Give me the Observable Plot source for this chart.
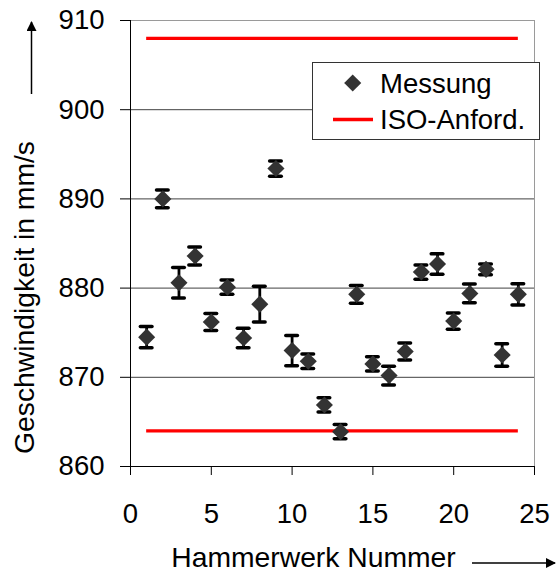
<!DOCTYPE html>
<html>
<head>
<meta charset="utf-8">
<script src="https://cdn.jsdelivr.net/npm/d3@7"></script>
<script src="https://cdn.jsdelivr.net/npm/@observablehq/plot@0.6"></script>
<style>
  html, body { margin: 0; padding: 0; background: #fff; }
  #chart { position: relative; width: 556px; height: 574px; }
</style>
</head>
<body>
<div id="chart"></div>
<script>
const nummer = [1,2,3,4,5,6,7,8,9,10,11,12,13,14,15,16,17,18,19,20,21,22,23,24];
const messung = [874.5, 890.0, 880.6, 883.6, 876.2, 880.1, 874.4, 878.2, 893.4, 873.0, 871.8, 866.9,
                 863.9, 879.3, 871.5, 870.2, 872.9, 881.8, 882.7, 876.3, 879.4, 882.1, 872.5, 879.3];
const fehler = [1.2, 1.0, 1.7, 1.0, 0.95, 0.8, 1.1, 2.0, 0.85, 1.7, 0.8, 0.8,
                0.8, 1.0, 0.8, 1.05, 0.95, 0.8, 1.15, 0.9, 1.05, 0.6, 1.25, 1.2];
const isoGrenzen = [864, 908];
const isoVon = 1, isoBis = 24;
const xTicks = [0, 5, 10, 15, 20, 25];
const yTicks = [860, 870, 880, 890, 900, 910];
const yGrid = [870, 880, 890, 900];
const xLabel = "Hammerwerk Nummer";
const yLabel = "Geschwindigkeit in mm/s";
const legendLabels = ["Messung", "ISO-Anford."];

const data = nummer.map((n, i) => ({n, v: messung[i], lo: messung[i] - fehler[i], hi: messung[i] + fehler[i]}));
const iso = isoGrenzen.map(g => ({g, x1: isoVon, x2: isoBis}));
const capW = 0.36;
const dotR = 7.7;

const font = "'Liberation Sans', Arial, sans-serif";
const fs = 27.5;

const plot = Plot.plot({
  width: 556,
  height: 574,
  marginLeft: 130,
  marginRight: 22,
  marginTop: 20,
  marginBottom: 108,
  style: {fontFamily: font, fontSize: fs + "px", color: "#000", background: "#fff"},
  x: {domain: [0, 25]},
  y: {domain: [860, 910]},
  marks: [
    Plot.gridY(yGrid, {stroke: "#404040", strokeOpacity: 1, strokeWidth: 1}),
    Plot.frame({stroke: "#9a9a9a", strokeWidth: 1}),
    Plot.ruleX([0], {stroke: "#000", strokeWidth: 1}),
    Plot.ruleY([860], {stroke: "#000", strokeWidth: 1}),
    Plot.axisY({ticks: yTicks, tickSize: 10, tickPadding: 16, label: null, stroke: "#000", fontSize: fs}),
    Plot.axisX({ticks: xTicks, tickSize: 9, tickPadding: 28, label: null, stroke: "#000", fontSize: fs}),
    Plot.ruleY(iso, {y: "g", x1: "x1", x2: "x2", stroke: "#ff0000", strokeWidth: 3.3}),
    Plot.ruleX(data, {x: "n", y1: "lo", y2: "hi", stroke: "#000", strokeWidth: 2.8}),
    Plot.ruleY(data, {y: "hi", x1: d => d.n - capW, x2: d => d.n + capW, stroke: "#000", strokeWidth: 3.5, strokeLinecap: "round"}),
    Plot.ruleY(data, {y: "lo", x1: d => d.n - capW, x2: d => d.n + capW, stroke: "#000", strokeWidth: 3.5, strokeLinecap: "round"}),
    Plot.dot(data, {x: "n", y: "v", symbol: "diamond2", r: dotR, fill: "#333333", stroke: "none"}),
    Plot.text([xLabel], {frameAnchor: "bottom", dx: -19, dy: 91, fontSize: 28.3, fill: "#000", textAnchor: "middle", lineAnchor: "middle"}),
    Plot.text([yLabel], {frameAnchor: "left", rotate: -90, dx: -106, dy: 54, fontSize: 28.3, fill: "#000", textAnchor: "middle", lineAnchor: "middle"})
  ]
});

document.getElementById("chart").appendChild(plot);

// decorations: direction arrows and legend
const svg = d3.select(plot);
const defs = svg.append("defs");
defs.append("marker").attr("id", "ah").attr("viewBox", "0 0 10 10").attr("refX", 9).attr("refY", 5)
  .attr("markerWidth", 10).attr("markerHeight", 10).attr("markerUnits", "userSpaceOnUse").attr("orient", "auto")
  .append("path").attr("d", "M0,0 L10,5 L0,10 z").attr("fill", "#000");
svg.append("line").attr("x1", 472).attr("y1", 563).attr("x2", 555).attr("y2", 563)
  .attr("stroke", "#000").attr("stroke-width", 1.5).attr("marker-end", "url(#ah)");
svg.append("line").attr("x1", 31.5).attr("y1", 94).attr("x2", 31.5).attr("y2", 22)
  .attr("stroke", "#000").attr("stroke-width", 1.5).attr("marker-end", "url(#ah)");

const lg = svg.append("g").attr("text-anchor", "start");
lg.append("rect").attr("x", 312.5).attr("y", 62.5).attr("width", 227).attr("height", 77)
  .attr("fill", "#fff").attr("stroke", "#333").attr("stroke-width", 1);
lg.append("path").attr("d", d3.symbol(d3.symbolDiamond2, dotR * dotR * Math.PI)())
  .attr("transform", "translate(352.7,83)").attr("fill", "#333");
lg.append("line").attr("x1", 333).attr("x2", 373).attr("y1", 119.5).attr("y2", 119.5)
  .attr("stroke", "#ff0000").attr("stroke-width", 3.3);
legendLabels.forEach((t, i) => {
  lg.append("text").attr("x", 380).attr("y", 83 + i * 36.5).attr("dy", "0.35em")
    .attr("text-anchor", "start")
    .attr("font-size", 27.5).attr("font-family", font).attr("fill", "#000").text(t);
});
</script>
</body>
</html>
